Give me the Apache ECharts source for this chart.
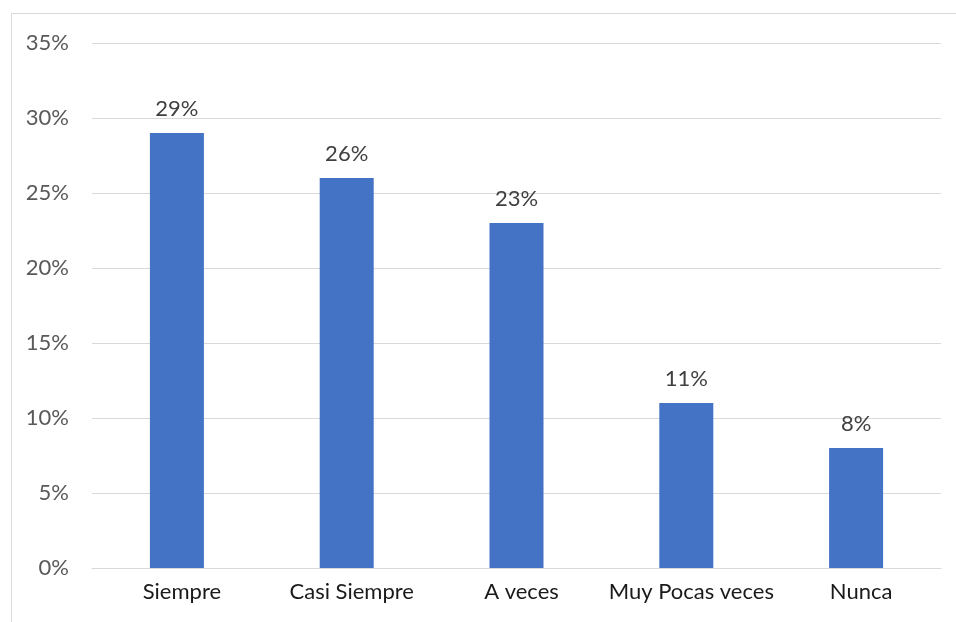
<!DOCTYPE html>
<html>
<head>
<meta charset="utf-8">
<script src="https://cdn.jsdelivr.net/npm/echarts@6/dist/echarts.min.js"></script>
<style>
html,body{margin:0;padding:0;background:#fff;}
#chart{width:956px;height:622px;}
</style>
</head>
<body>
<div id="chart"></div>
<script>
var categories = ['Siempre', 'Casi Siempre', 'A veces', 'Muy Pocas veces', 'Nunca'];
var values = [29, 26, 23, 11, 8];
var yTicks = [0, 5, 10, 15, 20, 25, 30, 35];

var FONT = 'Lato';
var chart = echarts.init(document.getElementById('chart'), null, {renderer: 'canvas'});
chart.setOption({
  animation: false,
  backgroundColor: '#ffffff',
  graphic: [{
    type: 'rect',
    shape: {x: 11.5, y: 13.5, width: 1000, height: 700},
    style: {fill: 'none', stroke: '#d9d9d9', lineWidth: 1},
    silent: true
  }],
  grid: {left: 92, right: 15, top: 43, bottom: 54},
  xAxis: {
    type: 'category',
    data: categories,
    axisLine: {show: true, lineStyle: {color: '#d9d9d9', width: 1}},
    axisTick: {show: false},
    axisLabel: {interval: 0, color: '#1a1a1a', fontSize: 22, fontFamily: FONT, margin: 13, padding: [0, 0, 0, 10]}
  },
  yAxis: {
    type: 'value',
    min: yTicks[0],
    max: yTicks[yTicks.length - 1],
    interval: 5,
    axisLine: {show: false},
    axisTick: {show: false},
    splitLine: {lineStyle: {color: '#d9d9d9', width: 1}},
    axisLabel: {color: '#595959', fontSize: 22, fontFamily: FONT, margin: 23, formatter: '{value}%'}
  },
  series: [{
    type: 'bar',
    data: values,
    barWidth: 54,
    itemStyle: {color: '#4472c4'},
    label: {show: true, position: 'top', distance: 13, color: '#404040', fontSize: 22, fontFamily: FONT, formatter: '{c}%'}
  }]
});
</script>
</body>
</html>
